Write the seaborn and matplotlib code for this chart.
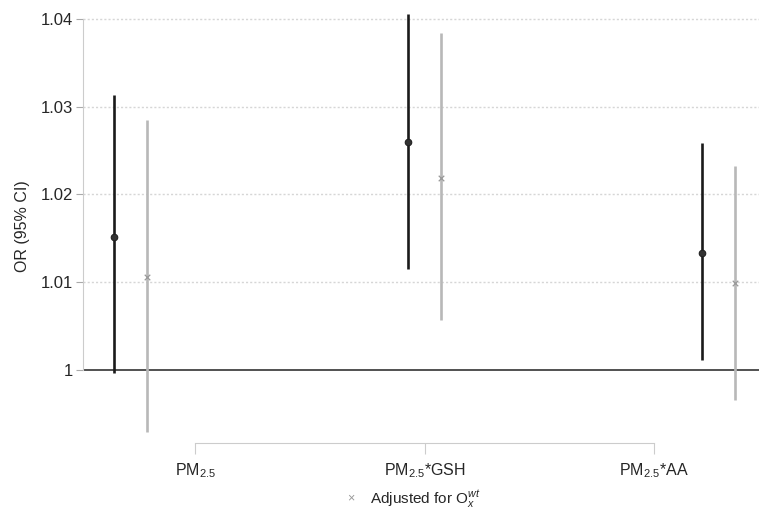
import numpy as np
import pandas as pd
import matplotlib
matplotlib.use("Agg")
import matplotlib.pyplot as plt
import seaborn as sns

sns.set_style("white")
plt.rcParams['font.family'] = ['Liberation Sans', 'DejaVu Sans']
plt.rcParams['mathtext.fontset'] = 'custom'
plt.rcParams['mathtext.rm'] = 'Liberation Sans'
plt.rcParams['mathtext.it'] = 'Liberation Sans:italic'

# data
exposures = ["PM$_{2.5}$", "PM$_{2.5}$*GSH", "PM$_{2.5}$*AA"]
or_crude = [1.0152, 1.0260, 1.0133]
lo_crude = [0.9997, 1.0115, 1.0011]
hi_crude = [1.0313, 1.0406, 1.0259]
or_adj = [1.0106, 1.0219, 1.0099]
lo_adj = [0.9929, 1.0057, 0.9966]
hi_adj = [1.0285, 1.0384, 1.0232]
tick_pos = [0.22, 1.0, 1.78]
yticks = [1.0, 1.01, 1.02, 1.03, 1.04]
yticklabels = ["1", "1.01", "1.02", "1.03", "1.04"]

grp = np.arange(len(exposures))
df = pd.DataFrame({
    "x": np.concatenate([grp - 0.056, grp + 0.056]),
    "OR": or_crude + or_adj,
    "lo": lo_crude + lo_adj,
    "hi": hi_crude + hi_adj,
    "model": ["crude"] * 3 + ["adj"] * 3,
})

fig = plt.figure(figsize=(7.59, 5.11), dpi=100)
ax = fig.add_axes([0.1094, 0.1331, 0.8906, 0.8473])

# gridlines and reference line
for yv in yticks[1:]:
    ax.axhline(yv, color="#d6d6d6", lw=1.0, ls=(0, (1.5, 1.5)), zorder=0)
ax.axhline(1.0, color="#333333", lw=1.2, zorder=1)

colors = {"crude": "#1a1a1a", "adj": "#b8b8b8"}
for m, d in df.groupby("model"):
    ax.vlines(d["x"], d["lo"], d["hi"], color=colors[m], lw=1.9, zorder=2)

sns.scatterplot(data=df[df.model == "crude"], x="x", y="OR", ax=ax, marker="o",
                s=22, color="#333333", edgecolor="#222222", linewidth=0.8,
                zorder=3, legend=False)
sns.scatterplot(data=df[df.model == "adj"], x="x", y="OR", ax=ax, marker="x",
                s=16, color="#999999", linewidth=0.9, zorder=3, legend=False)

ax.set_xlim(-0.1616, 2.1378)
ax.set_ylim(0.9917, 1.0410)
ax.set_yticks(yticks)
ax.set_yticklabels(yticklabels, fontsize=12)
ax.set_xticks(tick_pos)
ax.set_xticklabels(exposures, fontsize=11.5)
ax.set_xlabel("")
ax.set_ylabel("OR (95% CI)", fontsize=11.5, labelpad=8)

for s in ["top", "right"]:
    ax.spines[s].set_visible(False)
ax.spines["left"].set_bounds(1.0, 1.04)
ax.spines["left"].set_color("#cccccc")
ax.spines["bottom"].set_bounds(tick_pos[0], tick_pos[-1])
ax.spines["bottom"].set_color("#cccccc")
ax.tick_params(axis="y", left=True, length=5, color="#aaaaaa", pad=2)
ax.tick_params(axis="x", bottom=True, length=8, color="#cccccc", pad=5)

# legend at the bottom
fig.text(0.462, 0.024, "×", color="#999999", fontsize=9, ha="center", va="center")
fig.text(0.487, 0.024, "Adjusted for O$_x^{wt}$", fontsize=11, ha="left", va="center")

fig.savefig("out.png", dpi=100)
